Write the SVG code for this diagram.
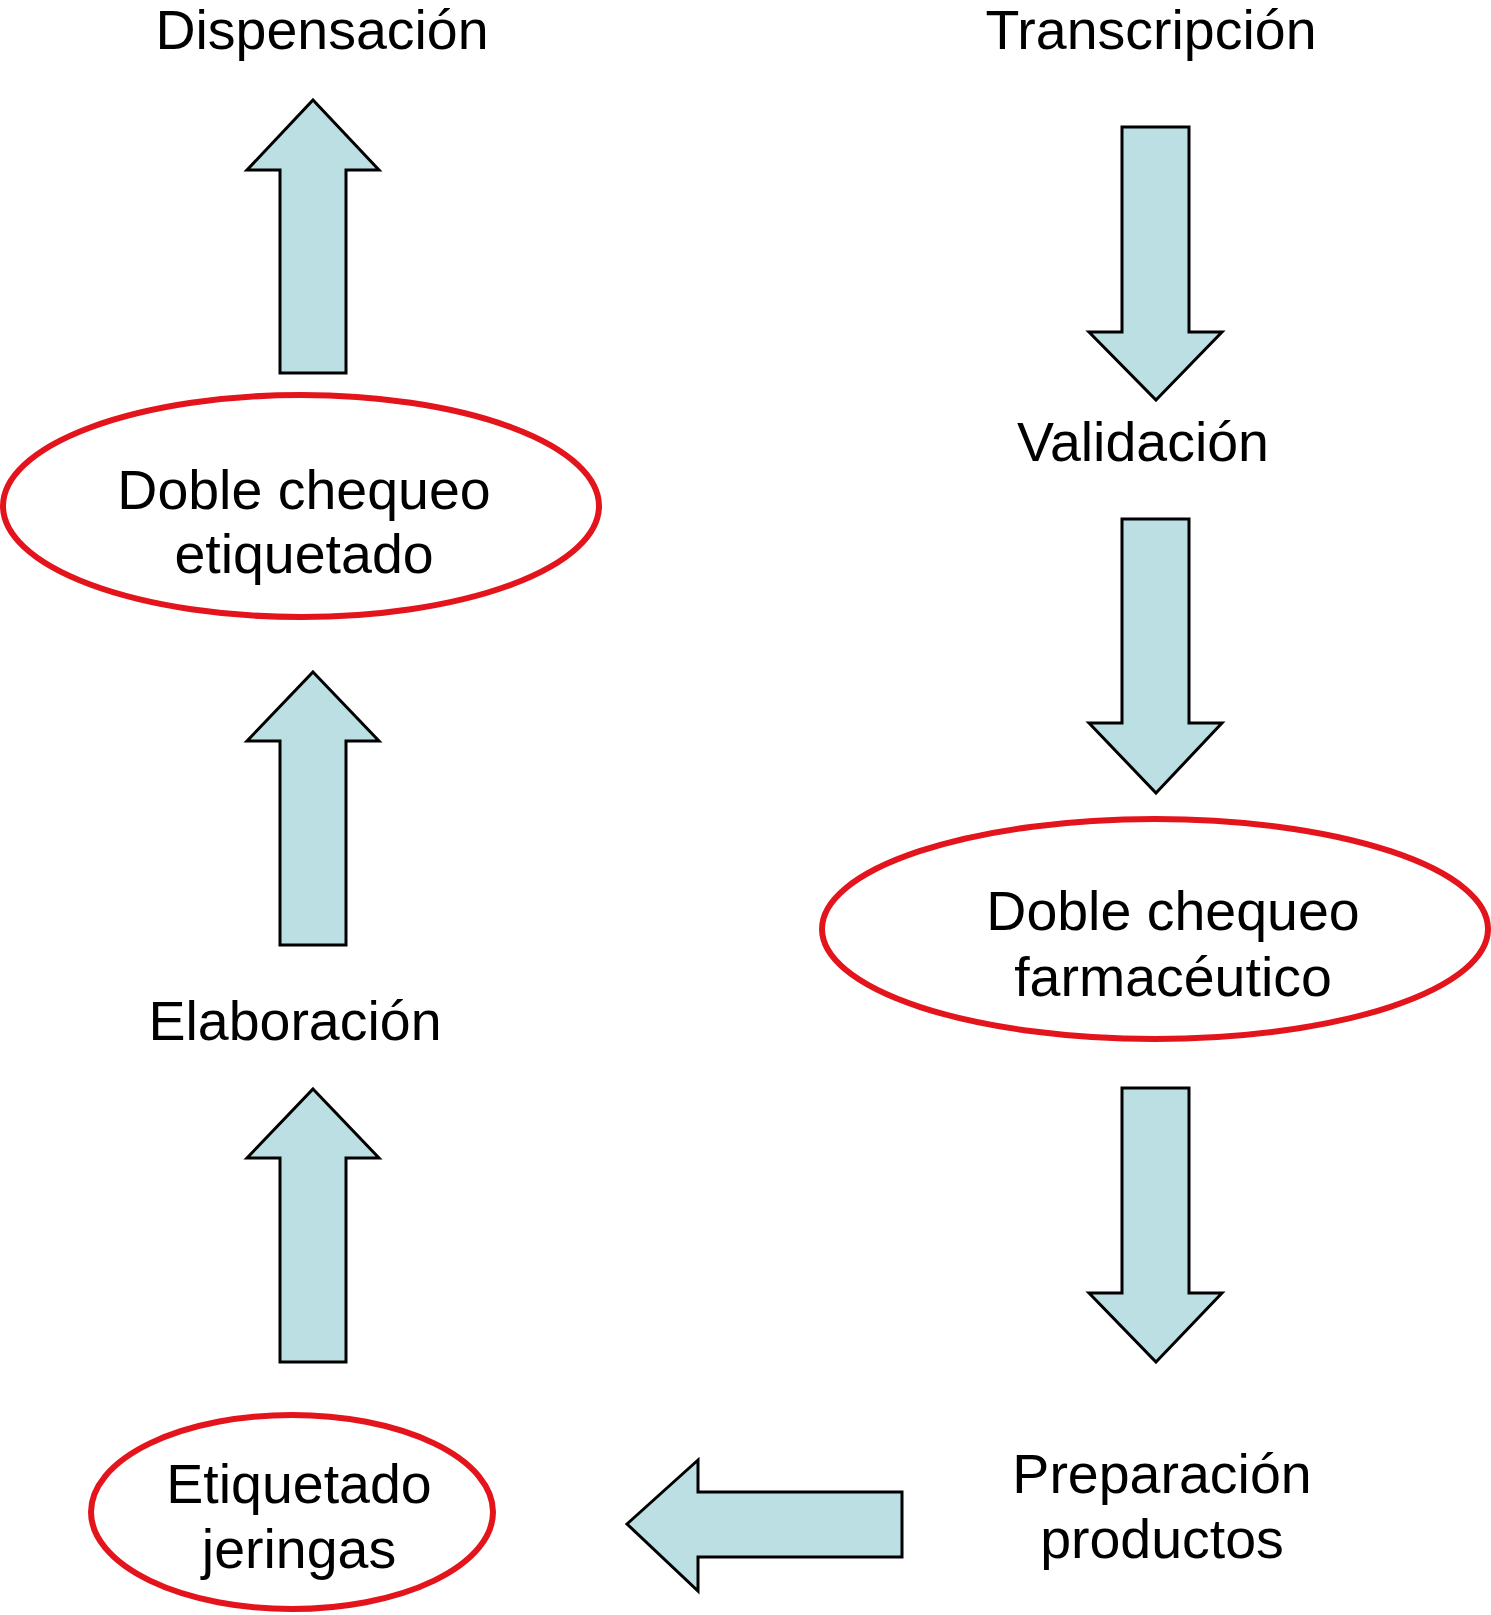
<svg xmlns="http://www.w3.org/2000/svg" width="1491" height="1615" viewBox="0 0 1491 1615">
<style>
.t{font-family:"Liberation Sans",Arial,sans-serif;font-size:55.5px;fill:#000;text-anchor:middle}
.e{fill:#fff;stroke:#e3141b;stroke-width:6}
.a{fill:#bbdfe2;stroke:#000;stroke-width:3;stroke-linejoin:miter}
</style>
<rect width="1491" height="1615" fill="#fff"/>
<g id="connectors">
<polygon class="a" points="313,100 379,170 346,170 346,373 280,373 280,170 247,170"/>
<polygon class="a" points="313,672 379,741 346,741 346,945 280,945 280,741 247,741"/>
<polygon class="a" points="313,1089 379,1158 346,1158 346,1362 280,1362 280,1158 247,1158"/>
<polygon class="a" points="1156,400 1222,332 1189,332 1189,127 1122,127 1122,332 1089,332"/>
<polygon class="a" points="1156,793 1222,723 1189,723 1189,519 1122,519 1122,723 1089,723"/>
<polygon class="a" points="1156,1362 1222,1293 1189,1293 1189,1088 1122,1088 1122,1293 1089,1293"/>
<polygon class="a" points="627,1524 698,1460 698,1492 902,1492 902,1557 698,1557 698,1591"/>
</g>
<g id="dispensacion"><text class="t" x="322" y="49">Dispensación</text></g>
<g id="transcripcion"><text class="t" x="1151" y="49">Transcripción</text></g>
<g id="doble-chequeo-etiquetado">
<ellipse class="e" cx="301" cy="506" rx="298" ry="111"/>
<text class="t" x="304" y="509">Doble chequeo</text>
<text class="t" x="304" y="573">etiquetado</text>
</g>
<g id="validacion"><text class="t" x="1143" y="461">Validación</text></g>
<g id="doble-chequeo-farmaceutico">
<ellipse class="e" cx="1155" cy="929" rx="333" ry="110"/>
<text class="t" x="1173" y="930">Doble chequeo</text>
<text class="t" x="1173" y="996">farmacéutico</text>
</g>
<g id="elaboracion"><text class="t" x="295" y="1040">Elaboración</text></g>
<g id="preparacion-productos">
<text class="t" x="1162" y="1493">Preparación</text>
<text class="t" x="1162" y="1558">productos</text>
</g>
<g id="etiquetado-jeringas">
<ellipse class="e" cx="292" cy="1512" rx="201" ry="97"/>
<text class="t" x="299" y="1503">Etiquetado</text>
<text class="t" x="299" y="1568">jeringas</text>
</g>
</svg>
